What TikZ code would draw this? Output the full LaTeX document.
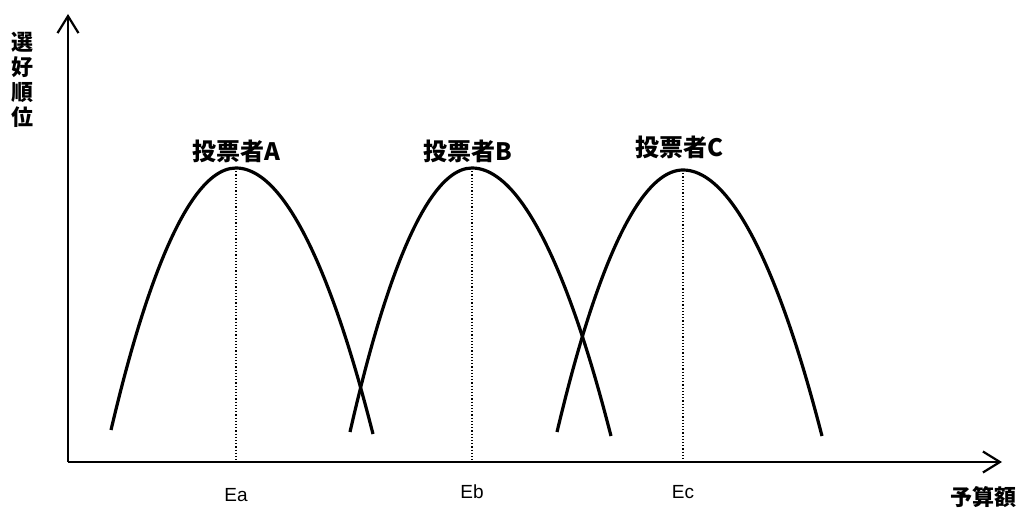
\documentclass[tikz,border=0pt]{standalone}
\usepackage{fontspec}
\setmainfont{Noto Sans CJK JP}
\newfontfamily\latinfont{Liberation Sans}
\usetikzlibrary{arrows.meta,positioning}

\begin{document}
\begin{tikzpicture}[
        x=1pt, y=-1pt,
        axis/.style={line width=2.2pt, -{Straight Barb[length=17pt,width=21pt,line width=2.2pt]}},
        curve/.style={line width=3.2pt},
        peakline/.style={dotted, line width=1.2pt},
        voter/.style={font=\fontsize{24}{26}\selectfont\bfseries, inner sep=0pt},
        tick/.style={font=\fontsize{19}{21}\latinfont, inner sep=0pt}
    ]
    \useasboundingbox (0,0) rectangle (1025,513);
    % axes
    \coordinate (origin) at (68,462);
    \coordinate (ytip) at (68,14);
    \coordinate (xtip) at (1002,462);
    \draw[axis] (origin) -- (ytip);
    \draw[axis] (origin) -- (xtip);
    \node[font=\fontsize{22}{25}\selectfont\bfseries, align=center, inner sep=0pt] (ylab) at (22,80) {選\\好\\順\\位};
    \node[font=\fontsize{22}{24}\selectfont\bfseries, inner sep=0pt] (xlab) at (983,497) {予算額};
    % voters
    \coordinate (pa) at (236,168);
    \coordinate (pb) at (472,168);
    \coordinate (pc) at (683,170);
    \coordinate (fa) at (236,462);
    \coordinate (fb) at (472,462);
    \coordinate (fc) at (683,462);
    \draw[curve] (111,430) parabola bend (pa) (373,434);
    \draw[curve] (350,432) parabola bend (pb) (611,436);
    \draw[curve] (557,432) parabola bend (pc) (822,436);
    \draw[peakline] (pa) -- (fa);
    \draw[peakline] (pb) -- (fb);
    \draw[peakline] (pc) -- (fc);
    \node[voter, above=5pt of pa] (va) {投票者A};
    \node[voter, above=5pt of pb, xshift=-4pt] (vb) {投票者B};
    \node[voter, above=11pt of pc, xshift=-4pt] (vc) {投票者C};
    \node[tick, below=26pt of fa] (ea) {Ea};
    \node[tick, below=23pt of fb] (eb) {Eb};
    \node[tick, below=23pt of fc] (ec) {Ec};
\end{tikzpicture}
\end{document}
